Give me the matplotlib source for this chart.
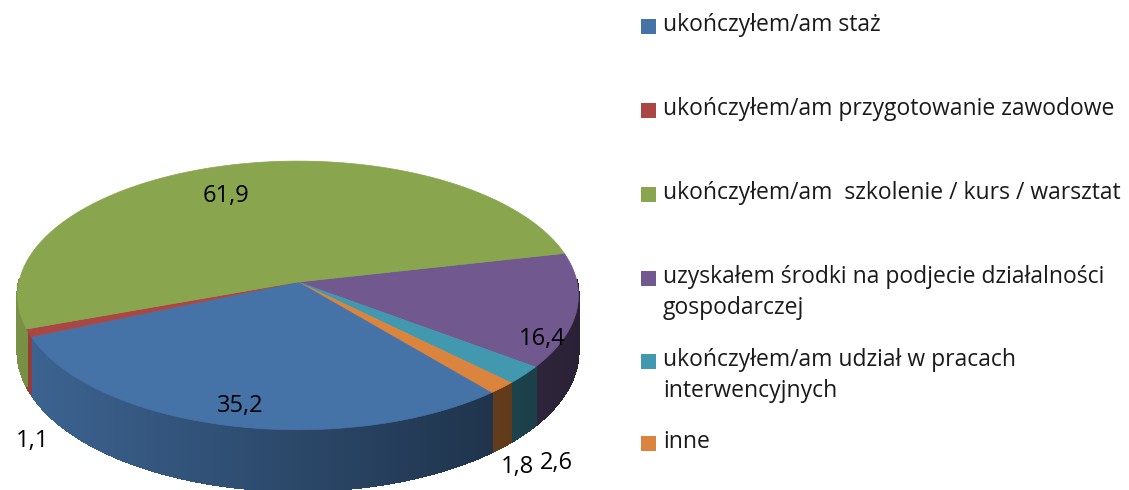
import matplotlib.pyplot as plt
import numpy as np
from matplotlib.collections import PolyCollection
from matplotlib.patches import Polygon, Rectangle

# dane
categories = ['ukończyłem/am staż',
              'ukończyłem/am przygotowanie zawodowe',
              'ukończyłem/am  szkolenie / kurs / warsztat',
              'uzyskałem środki na podjecie działalności\ngospodarczej',
              'ukończyłem/am udział w pracach\ninterwencyjnych',
              'inne']
values = [35.2, 1.1, 61.9, 16.4, 2.6, 1.8]
value_labels = ['35,2', '1,1', '61,9', '16,4', '2,6', '1,8']
colors = ['#4572A7', '#AA4643', '#89A54E', '#71588F', '#4198AF', '#DB843D']

plt.rcParams['font.family'] = ['Open Sans', 'DejaVu Sans']

W, H = 1129, 490
fig = plt.figure(figsize=(W / 100, H / 100), dpi=100)
ax = fig.add_axes([0, 0, 1, 1])
ax.set_xlim(0, W)
ax.set_ylim(H, 0)
ax.axis('off')

# geometria "3D" (piksele)
cx, cy = 298, 282
A, B = 279, 133
k = 0.10          # perspektywa
depth = 55
start = 12.7      # kąt startowy, kolejność zgodnie z ruchem wskazówek zegara


def proj(t, z=0.0):
    X, Y = np.cos(t), np.sin(t)
    D = 1 + k * Y
    return cx + A * X / D, cy - B * Y / D + z / D


# kolejność rysowania: od fioletowego zgodnie z ruchem wskazówek
order = [3, 4, 5, 0, 1, 2]
total = sum(values)
angles = {}
a = np.deg2rad(start)
for i in order:
    span = 2 * np.pi * values[i] / total
    angles[i] = (a - span, a)
    a -= span


def shade(c, f):
    rgb = np.array(plt.matplotlib.colors.to_rgb(c))
    return tuple(np.clip(rgb * f, 0, 1))


# ściany boczne z gradientem
polys, fcs = [], []
for i in order:
    t0, t1 = angles[i]
    ts = np.linspace(t0, t1, max(int(np.rad2deg(t1 - t0)) * 2, 2))
    for ta, tb in zip(ts[:-1], ts[1:]):
        if np.sin((ta + tb) / 2) > 0.02:
            continue
        xa, ya = proj(ta)
        xb, yb = proj(tb)
        xa2, ya2 = proj(ta, depth)
        xb2, yb2 = proj(tb, depth)
        polys.append([(xa, ya), (xb, yb), (xb2, yb2), (xa2, ya2)])
        frac = ((xa + xb) / 2 - (cx - A)) / (2 * A)
        fcs.append(shade(colors[i], 0.88 - 0.5 * frac))
ax.add_collection(PolyCollection(polys, facecolors=fcs, edgecolors=fcs,
                                 linewidths=1.0, antialiased=False))

# górne powierzchnie
for i in order:
    t0, t1 = angles[i]
    ts = np.linspace(t0, t1, 200)
    px, py = proj(ts)
    pts = [(cx, cy)] + list(zip(px, py))
    ax.add_patch(Polygon(pts, closed=True, facecolor=colors[i], edgecolor=colors[i], linewidth=0.5))

# etykiety wartości
label_pos = [(240, 406), (32, 441), (226, 196), (542, 339), (556, 463), (517, 467)]
for lab, (lx, ly) in zip(value_labels, label_pos):
    ax.text(lx, ly, lab, fontsize=17, ha='center', va='center', color='black')

# legenda
leg_y = [26, 110, 194, 278, 361, 443]
for c, txt, y in zip(colors, categories, leg_y):
    ax.add_patch(Rectangle((641, y - 7), 15, 15, facecolor=c, edgecolor='none'))
    ax.text(663, y - 13, txt, fontsize=16.5, ha='left', va='top', color='#1a1a1a',
            linespacing=1.38)

fig.savefig('out.png', dpi=100)
